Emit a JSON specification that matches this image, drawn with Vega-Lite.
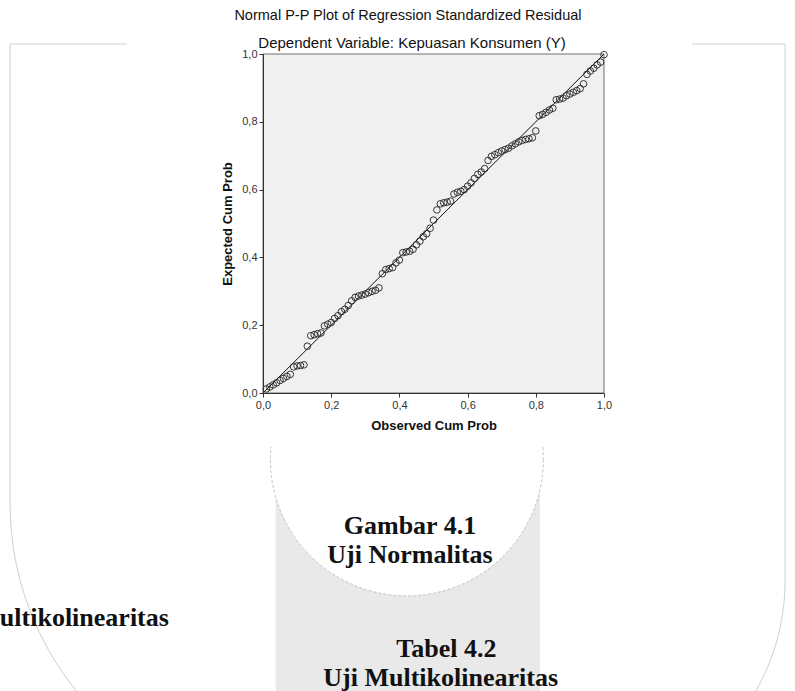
{
  "$schema": "https://vega.github.io/schema/vega-lite/v6.json",
  "width": 341,
  "height": 339,
  "autosize": {"type": "none"},
  "padding": {"left": 263, "top": 54, "right": 191, "bottom": 298},
  "background": "white",
  "config": {"view": {"stroke": null, "fill": null}, "font": "Liberation Sans"},
  "datasets": {
    "one": [{}],
    "pp": [
      {"observed": 0.01, "expected": 0.012}, {"observed": 0.02, "expected": 0.018}, {"observed": 0.03, "expected": 0.024}, {"observed": 0.04, "expected": 0.030},
      {"observed": 0.05, "expected": 0.037}, {"observed": 0.06, "expected": 0.043}, {"observed": 0.07, "expected": 0.049}, {"observed": 0.08, "expected": 0.055},
      {"observed": 0.09, "expected": 0.077}, {"observed": 0.10, "expected": 0.080}, {"observed": 0.11, "expected": 0.081}, {"observed": 0.12, "expected": 0.083},
      {"observed": 0.13, "expected": 0.138}, {"observed": 0.14, "expected": 0.169}, {"observed": 0.15, "expected": 0.172}, {"observed": 0.16, "expected": 0.175},
      {"observed": 0.17, "expected": 0.177}, {"observed": 0.18, "expected": 0.198}, {"observed": 0.19, "expected": 0.203}, {"observed": 0.20, "expected": 0.208},
      {"observed": 0.21, "expected": 0.220}, {"observed": 0.22, "expected": 0.228}, {"observed": 0.23, "expected": 0.240}, {"observed": 0.24, "expected": 0.247},
      {"observed": 0.25, "expected": 0.258}, {"observed": 0.26, "expected": 0.272}, {"observed": 0.27, "expected": 0.282}, {"observed": 0.28, "expected": 0.286},
      {"observed": 0.29, "expected": 0.289}, {"observed": 0.30, "expected": 0.292}, {"observed": 0.31, "expected": 0.296}, {"observed": 0.32, "expected": 0.300},
      {"observed": 0.33, "expected": 0.303}, {"observed": 0.34, "expected": 0.310}, {"observed": 0.35, "expected": 0.352}, {"observed": 0.36, "expected": 0.364},
      {"observed": 0.37, "expected": 0.367}, {"observed": 0.38, "expected": 0.370}, {"observed": 0.39, "expected": 0.384}, {"observed": 0.40, "expected": 0.392},
      {"observed": 0.41, "expected": 0.414}, {"observed": 0.42, "expected": 0.416}, {"observed": 0.43, "expected": 0.418}, {"observed": 0.44, "expected": 0.424},
      {"observed": 0.45, "expected": 0.437}, {"observed": 0.46, "expected": 0.448}, {"observed": 0.47, "expected": 0.461}, {"observed": 0.48, "expected": 0.470},
      {"observed": 0.49, "expected": 0.486}, {"observed": 0.50, "expected": 0.510}, {"observed": 0.51, "expected": 0.540}, {"observed": 0.52, "expected": 0.558},
      {"observed": 0.53, "expected": 0.561}, {"observed": 0.54, "expected": 0.563}, {"observed": 0.55, "expected": 0.566}, {"observed": 0.56, "expected": 0.587},
      {"observed": 0.57, "expected": 0.592}, {"observed": 0.58, "expected": 0.595}, {"observed": 0.59, "expected": 0.600}, {"observed": 0.60, "expected": 0.610},
      {"observed": 0.61, "expected": 0.620}, {"observed": 0.62, "expected": 0.633}, {"observed": 0.63, "expected": 0.645}, {"observed": 0.64, "expected": 0.652},
      {"observed": 0.65, "expected": 0.662}, {"observed": 0.66, "expected": 0.686}, {"observed": 0.67, "expected": 0.698}, {"observed": 0.68, "expected": 0.703},
      {"observed": 0.69, "expected": 0.709}, {"observed": 0.70, "expected": 0.714}, {"observed": 0.71, "expected": 0.718}, {"observed": 0.72, "expected": 0.722},
      {"observed": 0.73, "expected": 0.729}, {"observed": 0.74, "expected": 0.735}, {"observed": 0.75, "expected": 0.741}, {"observed": 0.76, "expected": 0.745},
      {"observed": 0.77, "expected": 0.748}, {"observed": 0.78, "expected": 0.750}, {"observed": 0.79, "expected": 0.753}, {"observed": 0.80, "expected": 0.773},
      {"observed": 0.81, "expected": 0.818}, {"observed": 0.82, "expected": 0.822}, {"observed": 0.83, "expected": 0.828}, {"observed": 0.84, "expected": 0.835},
      {"observed": 0.85, "expected": 0.840}, {"observed": 0.86, "expected": 0.865}, {"observed": 0.87, "expected": 0.867}, {"observed": 0.88, "expected": 0.870},
      {"observed": 0.89, "expected": 0.877}, {"observed": 0.90, "expected": 0.882}, {"observed": 0.91, "expected": 0.887}, {"observed": 0.92, "expected": 0.892},
      {"observed": 0.93, "expected": 0.898}, {"observed": 0.94, "expected": 0.912}, {"observed": 0.95, "expected": 0.940}, {"observed": 0.96, "expected": 0.950},
      {"observed": 0.97, "expected": 0.958}, {"observed": 0.98, "expected": 0.968}, {"observed": 0.99, "expected": 0.976}, {"observed": 1.00, "expected": 0.998}
    ]
  },
  "data": {"name": "one"},
  "layer": [
    {
      "mark": {"type": "rect", "fill": null, "fillOpacity": 0, "stroke": "#cfcfcf", "strokeWidth": 1, "cornerRadiusBottomLeft": 300, "cornerRadiusBottomRight": 222},
      "encoding": {
        "x": {"datum": -0.742, "type": "quantitative", "scale": {"domain": [0, 1], "nice": false, "zero": false}},
        "x2": {"datum": 1.531},
        "y": {"datum": 1.0295, "type": "quantitative", "scale": {"domain": [0, 1], "nice": false, "zero": false}},
        "y2": {"datum": -1.209}
      }
    },
    {
      "mark": {"type": "rect", "fill": "#e9e9e9"},
      "encoding": {
        "x": {"datum": 0.037, "type": "quantitative"},
        "x2": {"datum": 0.812},
        "y": {"datum": -0.268, "type": "quantitative"},
        "y2": {"datum": -0.95}
      }
    },
    {
      "mark": {"type": "point", "shape": "circle", "filled": true, "fill": "white", "stroke": "#c4c4c4", "strokeWidth": 1, "strokeDash": [3, 2], "size": 74529, "opacity": 1},
      "encoding": {
        "x": {"datum": 0.422, "type": "quantitative"},
        "y": {"datum": -0.196, "type": "quantitative"}
      }
    },
    {
      "mark": {"type": "rect", "fill": "white"},
      "encoding": {
        "x": {"datum": -0.399, "type": "quantitative"},
        "x2": {"datum": 1.258},
        "y": {"datum": 1.038, "type": "quantitative"},
        "y2": {"datum": -0.159}
      }
    },
    {
      "mark": {"type": "rect", "fill": "#f0f0f0", "stroke": "#6e6e6e", "strokeWidth": 1},
      "encoding": {
        "x": {"datum": 0, "type": "quantitative"},
        "x2": {"datum": 1},
        "y": {"datum": 0, "type": "quantitative"},
        "y2": {"datum": 1}
      }
    },
    {
      "mark": {"type": "rule", "color": "#111111", "strokeWidth": 1},
      "encoding": {
        "x": {"datum": 0, "type": "quantitative"},
        "x2": {"datum": 1},
        "y": {"datum": 0, "type": "quantitative"},
        "y2": {"datum": 1}
      }
    },
    {
      "data": {"name": "pp"},
      "mark": {"type": "point", "shape": "circle", "filled": false, "stroke": "#222222", "strokeWidth": 0.9, "size": 44, "opacity": 1},
      "encoding": {
        "x": {
          "field": "observed", "type": "quantitative",
          "axis": {
            "title": "Observed Cum Prob", "titleFont": "Liberation Sans", "titleFontSize": 13, "titleFontWeight": "bold", "titleColor": "#111",
            "titlePadding": 9, "values": [0, 0.2, 0.4, 0.6, 0.8, 1], "format": ".1f", "labelExpr": "replace(datum.label, '.', ',')",
            "labelFontSize": 11, "labelColor": "#333", "labelPadding": 2, "tickSize": 4, "tickColor": "#333", "domainColor": "#333",
            "grid": false, "zindex": 2, "labelFlush": false, "labelOverlap": false
          }
        },
        "y": {
          "field": "expected", "type": "quantitative",
          "axis": {
            "title": "Expected Cum Prob", "titleFont": "Liberation Sans", "titleFontSize": 13, "titleFontWeight": "bold", "titleColor": "#111",
            "titlePadding": 7, "values": [0, 0.2, 0.4, 0.6, 0.8, 1], "format": ".1f", "labelExpr": "replace(datum.label, '.', ',')",
            "labelFontSize": 11, "labelColor": "#333", "labelPadding": 2, "tickSize": 4, "tickColor": "#333", "domainColor": "#333",
            "grid": false, "zindex": 2, "labelFlush": false, "labelOverlap": false
          }
        }
      }
    },
    {
      "mark": {"type": "text", "text": "Normal P-P Plot of Regression Standardized Residual", "font": "Liberation Sans", "fontSize": 14.5, "color": "#111", "align": "center", "baseline": "middle"},
      "encoding": {"x": {"datum": 0.425, "type": "quantitative"}, "y": {"datum": 1.112, "type": "quantitative"}}
    },
    {
      "mark": {"type": "text", "text": "Dependent Variable: Kepuasan Konsumen (Y)", "font": "Liberation Sans", "fontSize": 15, "color": "#111", "align": "center", "baseline": "middle"},
      "encoding": {"x": {"datum": 0.437, "type": "quantitative"}, "y": {"datum": 1.032, "type": "quantitative"}}
    },
    {
      "mark": {"type": "text", "text": "Gambar 4.1", "font": "Liberation Serif", "fontSize": 26, "fontWeight": "bold", "color": "#111", "align": "center", "baseline": "middle"},
      "encoding": {"x": {"datum": 0.431, "type": "quantitative"}, "y": {"datum": -0.392, "type": "quantitative"}}
    },
    {
      "mark": {"type": "text", "text": "Uji Normalitas", "font": "Liberation Serif", "fontSize": 26, "fontWeight": "bold", "color": "#111", "align": "center", "baseline": "middle"},
      "encoding": {"x": {"datum": 0.431, "type": "quantitative"}, "y": {"datum": -0.478, "type": "quantitative"}}
    },
    {
      "mark": {"type": "text", "text": "ultikolinearitas", "font": "Liberation Serif", "fontSize": 26, "fontWeight": "bold", "color": "#111", "align": "right", "baseline": "middle"},
      "encoding": {"x": {"datum": -0.276, "type": "quantitative"}, "y": {"datum": -0.664, "type": "quantitative"}}
    },
    {
      "mark": {"type": "text", "text": "Tabel 4.2", "font": "Liberation Serif", "fontSize": 26, "fontWeight": "bold", "color": "#111", "align": "center", "baseline": "middle"},
      "encoding": {"x": {"datum": 0.538, "type": "quantitative"}, "y": {"datum": -0.755, "type": "quantitative"}}
    },
    {
      "mark": {"type": "text", "text": "Uji Multikolinearitas", "font": "Liberation Serif", "fontSize": 26, "fontWeight": "bold", "color": "#111", "align": "center", "baseline": "middle"},
      "encoding": {"x": {"datum": 0.521, "type": "quantitative"}, "y": {"datum": -0.841, "type": "quantitative"}}
    }
  ]
}
